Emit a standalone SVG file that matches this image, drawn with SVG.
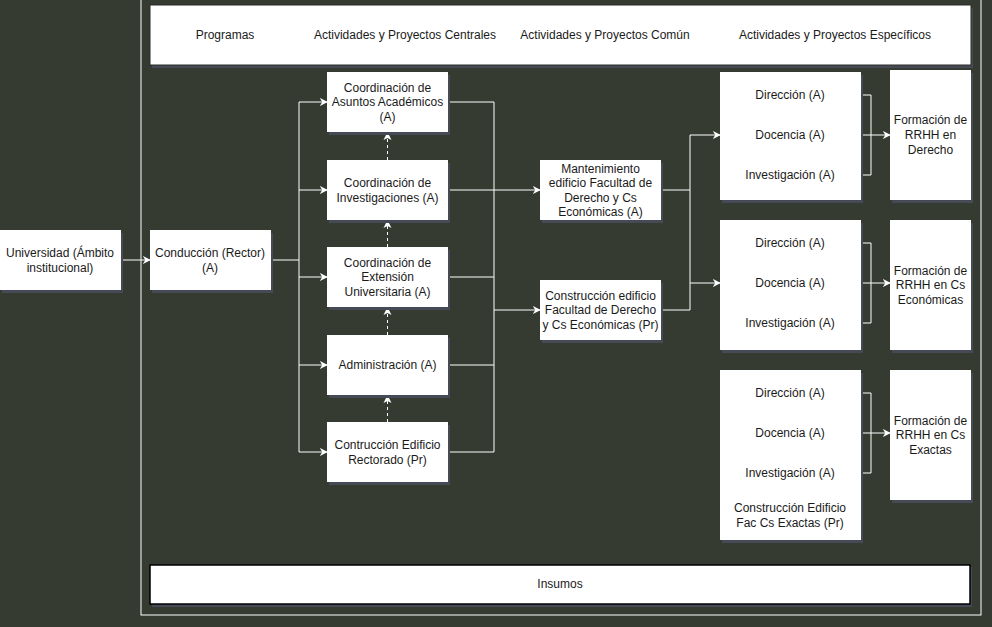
<svg xmlns="http://www.w3.org/2000/svg" width="992" height="627" viewBox="0 0 992 627">
<style>
.n{fill:#ffffff;}
.sh{fill:#464a56;}
.t{font-family:"Liberation Sans",Arial,sans-serif;font-size:12px;fill:#1a1a1a;text-anchor:middle;}
.e{fill:none;stroke:#ffffff;stroke-width:1;}
.d{fill:none;stroke:#ffffff;stroke-width:1;stroke-dasharray:3 3;}
</style>
<defs>
<marker id="ah" viewBox="0 0 10 10" refX="9" refY="5" markerWidth="8" markerHeight="8" markerUnits="userSpaceOnUse" orient="auto">
<path d="M0,0 L10,5 L0,10 L3,5 Z" fill="#ffffff" stroke="none"/>
</marker>
</defs>
<rect x="0" y="0" width="992" height="627" fill="#363b32"/>
<g id="container">
<rect x="141" y="-5" width="840" height="620" fill="none" stroke="#ffffff" stroke-width="1"/>
</g>
<g id="header">
<rect class="sh" x="152" y="8" width="821" height="60"/>
<rect class="n" x="150" y="5" width="821" height="60" stroke="#2a2d28" stroke-width="1"/>
<text class="t" x="225" y="39">Programas</text>
<text class="t" x="405" y="39">Actividades y Proyectos Centrales</text>
<text class="t" x="605" y="39">Actividades y Proyectos Común</text>
<text class="t" x="835" y="39">Actividades y Proyectos Específicos</text>
</g>
<g id="insumos">
<rect class="sh" x="152" y="567" width="820" height="40"/>
<rect class="n" x="150" y="565" width="820" height="39" stroke="#000000" stroke-width="1.5"/>
<text class="t" x="560" y="588">Insumos</text>
</g>
<g id="connectors">
<path class="e" d="M121,260 H150" marker-end="url(#ah)"/>
<path class="e" d="M271,260 H299"/>
<path class="e" d="M299,102 V452" stroke="#d0d0d0"/>
<path class="e" d="M299,102 H327" marker-end="url(#ah)"/>
<path class="e" d="M299,190 H327" marker-end="url(#ah)"/>
<path class="e" d="M299,277 H327" marker-end="url(#ah)"/>
<path class="e" d="M299,365 H327" marker-end="url(#ah)"/>
<path class="e" d="M299,452 H327" marker-end="url(#ah)"/>
<path class="d" d="M387.5,160 V133"/>
<path class="d" d="M387.5,247 V221"/>
<path class="d" d="M387.5,335 V308"/>
<path class="d" d="M387.5,422 V396"/>
<path fill="#ffffff" d="M387.5,132 L391.5,140 L387.5,138 L383.5,140 Z"/>
<path fill="#ffffff" d="M387.5,220 L391.5,228 L387.5,226 L383.5,228 Z"/>
<path fill="#ffffff" d="M387.5,307 L391.5,315 L387.5,313 L383.5,315 Z"/>
<path fill="#ffffff" d="M387.5,395 L391.5,403 L387.5,401 L383.5,403 Z"/>
<path class="e" d="M448,102 H494"/>
<path class="e" d="M448,190 H494"/>
<path class="e" d="M448,277 H494"/>
<path class="e" d="M448,365 H494"/>
<path class="e" d="M448,452 H494"/>
<path class="e" d="M494,102 V452" stroke="#d0d0d0"/>
<path class="e" d="M494,190 H540" marker-end="url(#ah)"/>
<path class="e" d="M494,310 H540" marker-end="url(#ah)"/>
<path class="e" d="M661,190 H690"/>
<path class="e" d="M661,310 H690"/>
<path class="e" d="M690,135 V310"/>
<path class="e" d="M690,135 H720" marker-end="url(#ah)"/>
<path class="e" d="M690,283 H720" marker-end="url(#ah)"/>
<path class="e" d="M861,95 H871 V175 H861"/>
<path class="e" d="M861,135 H890" marker-end="url(#ah)"/>
<path class="e" d="M861,243 H871 V323 H861"/>
<path class="e" d="M861,283 H890" marker-end="url(#ah)"/>
<path class="e" d="M861,393 H871 V473 H861"/>
<path class="e" d="M861,433 H890" marker-end="url(#ah)"/>
</g>
<g id="universidad">
<rect class="sh" x="2" y="233" width="121" height="60"/>
<rect class="n" x="0" y="230" width="121" height="60"/>
<text class="t" x="60" y="257">Universidad (Ámbito</text>
<text class="t" x="60" y="272">institucional)</text>
</g>
<g id="conduccion">
<rect class="sh" x="152" y="233" width="121" height="60"/>
<rect class="n" x="150" y="230" width="121" height="60"/>
<text class="t" x="210" y="257">Conducción (Rector)</text>
<text class="t" x="210" y="272">(A)</text>
</g>
<g id="coord-asuntos">
<rect class="sh" x="329" y="75" width="121" height="60"/>
<rect class="n" x="327" y="72" width="121" height="60"/>
<text class="t" x="387.5" y="92">Coordinación de</text>
<text class="t" x="387.5" y="106">Asuntos Académicos</text>
<text class="t" x="387.5" y="121">(A)</text>
</g>
<g id="coord-investigaciones">
<rect class="sh" x="329" y="163" width="121" height="60"/>
<rect class="n" x="327" y="160" width="121" height="60"/>
<text class="t" x="387.5" y="187">Coordinación de</text>
<text class="t" x="387.5" y="202">Investigaciones (A)</text>
</g>
<g id="coord-extension">
<rect class="sh" x="329" y="250" width="121" height="60"/>
<rect class="n" x="327" y="247" width="121" height="60"/>
<text class="t" x="387.5" y="267">Coordinación de</text>
<text class="t" x="387.5" y="281">Extensión</text>
<text class="t" x="387.5" y="296">Universitaria (A)</text>
</g>
<g id="administracion">
<rect class="sh" x="329" y="338" width="121" height="60"/>
<rect class="n" x="327" y="335" width="121" height="60"/>
<text class="t" x="387.5" y="369">Administración (A)</text>
</g>
<g id="rectorado">
<rect class="sh" x="329" y="425" width="121" height="60"/>
<rect class="n" x="327" y="422" width="121" height="60"/>
<text class="t" x="387.5" y="449">Contrucción Edificio</text>
<text class="t" x="387.5" y="464">Rectorado (Pr)</text>
</g>
<g id="mantenimiento">
<rect class="sh" x="542" y="163" width="121" height="60"/>
<rect class="n" x="540" y="160" width="121" height="60"/>
<text class="t" x="600.5" y="173">Mantenimiento</text>
<text class="t" x="600.5" y="187">edificio Facultad de</text>
<text class="t" x="600.5" y="202">Derecho y Cs</text>
<text class="t" x="600.5" y="216">Económicas (A)</text>
</g>
<g id="construccion-derecho">
<rect class="sh" x="542" y="283" width="121" height="60"/>
<rect class="n" x="540" y="280" width="121" height="60"/>
<text class="t" x="600.5" y="300">Construcción edificio</text>
<text class="t" x="600.5" y="314">Facultad de Derecho</text>
<text class="t" x="600.5" y="329">y Cs Económicas (Pr)</text>
</g>
<g id="grupo-derecho">
<rect class="sh" x="722" y="75" width="141" height="128"/>
<rect class="n" x="720" y="72" width="141" height="128"/>
<text class="t" x="790" y="99">Dirección (A)</text>
<text class="t" x="790" y="139">Docencia (A)</text>
<text class="t" x="790" y="179">Investigación (A)</text>
</g>
<g id="formacion-derecho">
<rect class="sh" x="892" y="73" width="81" height="130"/>
<rect class="n" x="890" y="70" width="81" height="130"/>
<text class="t" x="930.5" y="124">Formación de</text>
<text class="t" x="930.5" y="139">RRHH en</text>
<text class="t" x="930.5" y="154">Derecho</text>
</g>
<g id="grupo-economicas">
<rect class="sh" x="722" y="223" width="141" height="130"/>
<rect class="n" x="720" y="220" width="141" height="130"/>
<text class="t" x="790" y="247">Dirección (A)</text>
<text class="t" x="790" y="287">Docencia (A)</text>
<text class="t" x="790" y="327">Investigación (A)</text>
</g>
<g id="formacion-economicas">
<rect class="sh" x="892" y="223" width="81" height="130"/>
<rect class="n" x="890" y="220" width="81" height="130"/>
<text class="t" x="930.5" y="275">Formación de</text>
<text class="t" x="930.5" y="289">RRHH en Cs</text>
<text class="t" x="930.5" y="304">Económicas</text>
</g>
<g id="grupo-exactas">
<rect class="sh" x="722" y="373" width="141" height="170"/>
<rect class="n" x="720" y="370" width="141" height="170"/>
<text class="t" x="790" y="397">Dirección (A)</text>
<text class="t" x="790" y="437">Docencia (A)</text>
<text class="t" x="790" y="477">Investigación (A)</text>
<text class="t" x="790" y="512">Construcción Edificio</text>
<text class="t" x="790" y="527">Fac Cs Exactas (Pr)</text>
</g>
<g id="formacion-exactas">
<rect class="sh" x="892" y="373" width="81" height="130"/>
<rect class="n" x="890" y="370" width="81" height="130"/>
<text class="t" x="930.5" y="425">Formación de</text>
<text class="t" x="930.5" y="439">RRHH en Cs</text>
<text class="t" x="930.5" y="454">Exactas</text>
</g>
</svg>
